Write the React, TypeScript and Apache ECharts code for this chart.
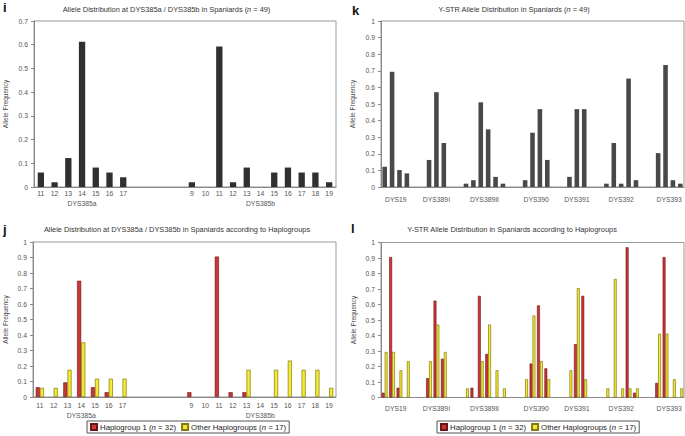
import React, { useEffect, useRef } from 'react';
import * as echarts from 'echarts';

// ---------- DATA ----------
// Panels i / j : DYS385a / DYS385b
const alleleA = ['11', '12', '13', '14', '15', '16', '17'];
const alleleB = ['9', '10', '11', '12', '13', '14', '15', '16', '17', '18', '19'];
const groupAB = ['DYS385a', 'DYS385b'];
const gapAB = 4;

const allA = [0.061, 0.02, 0.122, 0.612, 0.082, 0.061, 0.041];
const allB = [0.02, 0, 0.592, 0.02, 0.082, 0, 0.061, 0.082, 0.061, 0.061, 0.02];
const hap1A = [0.063, 0, 0.094, 0.75, 0.063, 0.031, 0];
const hap1B = [0.031, 0, 0.906, 0.031, 0.031, 0, 0, 0, 0, 0, 0];
const othA = [0.059, 0.059, 0.176, 0.353, 0.118, 0.118, 0.118];
const othB = [0, 0, 0, 0, 0.176, 0, 0.176, 0.235, 0.176, 0.176, 0.059];

// Panels k / l : Y-STR loci
const loci = ['DYS19', 'DYS389I', 'DYS389II', 'DYS390', 'DYS391', 'DYS392', 'DYS393'];
const gapLoci = 2;
const lociAll = [
  [0.122, 0.694, 0.102, 0.082],
  [0.163, 0.571, 0.265],
  [0.02, 0.041, 0.51, 0.347, 0.061, 0.02],
  [0.041, 0.327, 0.469, 0.163],
  [0.061, 0.469, 0.469],
  [0.02, 0.265, 0.02, 0.653, 0.041],
  [0.204, 0.735, 0.041, 0.02],
];
const lociHap1 = [
  [0.031, 0.906, 0.063, 0],
  [0.125, 0.625, 0.25],
  [0, 0.063, 0.656, 0.281, 0, 0],
  [0, 0.219, 0.594, 0.188],
  [0, 0.344, 0.656],
  [0, 0, 0, 0.969, 0.031],
  [0.094, 0.906, 0, 0],
];
const lociOth = [
  [0.294, 0.294, 0.176, 0.235],
  [0.235, 0.471, 0.294],
  [0.059, 0, 0.235, 0.471, 0.176, 0.059],
  [0.118, 0.529, 0.235, 0.118],
  [0.176, 0.706, 0.118],
  [0.059, 0.765, 0.059, 0.059, 0.059],
  [0.412, 0.412, 0.118, 0.059],
];

const nameH1 = 'Haplogroup 1 (n = 32)';
const nameOth = 'Other Haplogroups (n = 17)';

// ---------- BUILD ----------
const nz = (v: number | null) => (v === 0 ? null : v);
const gapArr = (n: number) => Array.from({ length: n }, () => null as number | null);

const catsAB = [
  ...alleleA.map((a) => 'a' + a),
  ...Array.from({ length: gapAB }, (_, i) => 'gap' + i),
  ...alleleB.map((b) => 'b' + b),
];
const ticksAB = [...alleleA, ...Array.from({ length: gapAB }, () => ''), ...alleleB];
const padAB = (a: number[], b: number[]) => [...a, ...gapArr(gapAB), ...b].map(nz);
const centersAB = [(alleleA.length - 1) / 2, alleleA.length + gapAB + (alleleB.length - 1) / 2];

const catsLoci: string[] = [];
const centersLoci: number[] = [];
loci.forEach((l, i) => {
  const start = catsLoci.length;
  lociAll[i].forEach((_, j) => catsLoci.push(l + '_' + j));
  centersLoci.push(start + (lociAll[i].length - 1) / 2);
  if (i < loci.length - 1) for (let g = 0; g < gapLoci; g++) catsLoci.push(l + '_gap' + g);
});
const padLoci = (arr: number[][]) => {
  const out: (number | null)[] = [];
  arr.forEach((vals, i) => {
    vals.forEach((v) => out.push(nz(v)));
    if (i < arr.length - 1) out.push(...gapArr(gapLoci));
  });
  return out;
};

const FONT = 'Liberation Sans, Arial, Helvetica, sans-serif';
const RED = '#c8353a';
const RED_B = '#6e1414';
const YEL = '#f3ea33';
const YEL_B = '#857a10';

const grids = [
  { left: 34, top: 21, width: 302, height: 166 },
  { left: 33, top: 242, width: 303, height: 155 },
  { left: 381, top: 21, width: 303, height: 166 },
  { left: 381, top: 242.5, width: 303, height: 155 },
].map((g) => ({ ...g, show: true, borderColor: '#999', borderWidth: 1, backgroundColor: 'transparent' }));

const catAxis = (gridIndex: number, data: string[], labels: string[] | null, margin: number) => ({
  type: 'category',
  gridIndex,
  data,
  boundaryGap: true,
  axisLine: { show: true, onZero: false, lineStyle: { color: '#888', width: 1 } },
  axisTick: { show: false },
  splitLine: { show: false },
  axisLabel: labels
    ? {
        show: true,
        interval: 0,
        margin,
        fontSize: 6.8,
        color: '#555',
        fontFamily: FONT,
        formatter: (_v: string, idx: number) => labels[idx],
      }
    : { show: false },
});

const groupAxis = (gridIndex: number, n: number, centers: number[], names: string[], margin: number) => {
  const map = new Map<number, string>();
  centers.forEach((c, i) => map.set(c, names[i]));
  return {
    type: 'value',
    gridIndex,
    min: -0.5,
    max: n - 0.5,
    position: 'bottom',
    axisLine: { show: false, onZero: false },
    axisTick: { show: false },
    splitLine: { show: false },
    axisLabel: {
      show: true,
      customValues: centers,
      margin,
      fontSize: 6.8,
      color: '#555',
      fontFamily: FONT,
      formatter: (v: number) => map.get(Math.round(v * 2) / 2) ?? '',
    },
  };
};

const yAxis = (gridIndex: number, max: number, nameGap: number) => ({
  type: 'value',
  gridIndex,
  min: 0,
  max,
  interval: 0.1,
  name: 'Allele Frequency',
  nameLocation: 'middle',
  nameGap,
  nameTextStyle: { fontSize: 6.5, color: '#444', fontFamily: FONT },
  axisLine: { show: true, onZero: false, lineStyle: { color: '#888', width: 1 } },
  axisTick: { show: true, length: 3, lineStyle: { color: '#888' } },
  splitLine: { show: false },
  axisLabel: { fontSize: 6.8, color: '#555', margin: 6, fontFamily: FONT },
});

const titleText = (x: number, y: number, before: string, after: string | null) => ({
  type: 'text',
  x,
  y,
  style: {
    text: after === null ? `{t|${before}}` : `{t|${before}}{n|n}{t|${after}}`,
    rich: {
      t: { fontSize: 7.4, fontFamily: FONT, fill: '#333' },
      n: { fontSize: 7.4, fontFamily: FONT, fill: '#333', fontStyle: 'italic' },
    },
    align: 'center',
    verticalAlign: 'middle',
  },
});

const letter = (x: number, y: number, t: string) => ({
  type: 'text',
  x,
  y,
  style: { text: t, fontSize: 13, fontWeight: 'bold', fontFamily: FONT, fill: '#111' },
});

const legend = (left: number) => ({
  show: true,
  left,
  top: 421,
  orient: 'horizontal',
  data: [nameH1, nameOth],
  icon: 'rect',
  itemWidth: 6,
  itemHeight: 6,
  itemGap: 5,
  padding: [2, 3, 2, 3],
  borderColor: '#555',
  borderWidth: 1,
  selectedMode: false,
  textStyle: {
    fontSize: 7.8,
    color: '#222',
    fontFamily: FONT,
    padding: [0, 0, 0, -2],
    rich: { i: { fontSize: 7.8, fontStyle: 'italic', color: '#222', fontFamily: FONT } },
  },
  formatter: (name: string) => name.replace('(n =', '({i|n} ='),
});

const h1Style = { color: RED, borderColor: RED_B, borderWidth: 0.6 };
const othStyle = { color: YEL, borderColor: YEL_B, borderWidth: 0.7 };

const option: any = {
  animation: false,
  backgroundColor: '#fff',
  textStyle: { fontFamily: FONT },
  grid: grids,
  xAxis: [
    catAxis(0, catsAB, ticksAB, 3),
    groupAxis(0, catsAB.length, centersAB, groupAB, 13),
    catAxis(1, catsAB, ticksAB, 5),
    groupAxis(1, catsAB.length, centersAB, groupAB, 15),
    catAxis(2, catsLoci, null, 0),
    groupAxis(2, catsLoci.length, centersLoci, loci, 9),
    catAxis(3, catsLoci, null, 0),
    groupAxis(3, catsLoci.length, centersLoci, loci, 7),
  ],
  yAxis: [yAxis(0, 0.7, 25), yAxis(1, 1, 24.5), yAxis(2, 1, 25), yAxis(3, 1, 24.5)],
  legend: [legend(87), legend(437)],
  series: [
    {
      type: 'bar',
      name: 'All (n = 49)',
      xAxisIndex: 0,
      yAxisIndex: 0,
      data: padAB(allA, allB),
      barWidth: '46%',
      itemStyle: { color: '#303030' },
    },
    {
      type: 'bar',
      name: nameH1,
      xAxisIndex: 2,
      yAxisIndex: 1,
      data: padAB(hap1A, hap1B),
      barGap: '0%',
      barCategoryGap: '40%',
      itemStyle: h1Style,
    },
    {
      type: 'bar',
      name: nameOth,
      xAxisIndex: 2,
      yAxisIndex: 1,
      data: padAB(othA, othB),
      barGap: '0%',
      barCategoryGap: '40%',
      itemStyle: othStyle,
    },
    {
      type: 'bar',
      name: 'Y-STR (n = 49)',
      xAxisIndex: 4,
      yAxisIndex: 2,
      data: padLoci(lociAll),
      barCategoryGap: '38%',
      itemStyle: { color: '#484848' },
    },
    {
      type: 'bar',
      name: nameH1,
      xAxisIndex: 6,
      yAxisIndex: 3,
      data: padLoci(lociHap1),
      barGap: '0%',
      barCategoryGap: '22%',
      itemStyle: h1Style,
    },
    {
      type: 'bar',
      name: nameOth,
      xAxisIndex: 6,
      yAxisIndex: 3,
      data: padLoci(lociOth),
      barGap: '0%',
      barCategoryGap: '22%',
      itemStyle: othStyle,
    },
  ],
  graphic: [
    letter(3, 1, 'i'),
    letter(352, 4, 'k'),
    letter(3, 223, 'j'),
    letter(351, 222, 'l'),
    titleText(166.5, 9, 'Allele Distribution at DYS385a / DYS385b in Spaniards (', ' = 49)'),
    titleText(514, 9, 'Y-STR Allele Distribution in Spaniards (', ' = 49)'),
    titleText(177, 229, 'Allele Distribution at DYS385a / DYS385b in Spaniards according to Haplogroups', null),
    titleText(512, 229, 'Y-STR Allele Distribution in Spaniards according to Haplogroups', null),
  ],
};

export default function App() {
  const ref = useRef<HTMLDivElement>(null);
  useEffect(() => {
    const chart = echarts.init(ref.current!, null, { renderer: 'svg' });
    chart.setOption(option);
    return () => chart.dispose();
  }, []);
  return (
    <div
      ref={ref}
      style={{ position: 'absolute', left: 0, top: 0, width: 685, height: 436, background: '#fff' }}
    />
  );
}
